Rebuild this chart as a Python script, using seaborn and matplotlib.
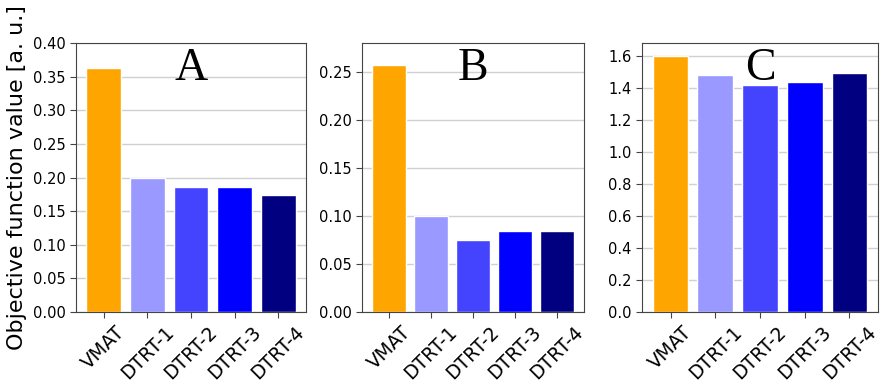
import pandas as pd
import seaborn as sns
import matplotlib.pyplot as plt

# bar values
methods = ['VMAT', 'DTRT-1', 'DTRT-2', 'DTRT-3', 'DTRT-4']
vals_a = [0.363, 0.200, 0.186, 0.186, 0.174]
vals_b = [0.257, 0.100, 0.075, 0.084, 0.084]
vals_c = [1.600, 1.480, 1.420, 1.435, 1.492]
letters = ['A', 'B', 'C']
colors = ['#FFA500', '#9999FF', '#4444FF', '#0000FF', '#000080']

sns.set_style('white')
plt.rcParams['font.family'] = ['DejaVu Sans']
plt.rcParams['text.color'] = 'black'
plt.rcParams['axes.labelcolor'] = 'black'
plt.rcParams['xtick.color'] = 'black'
plt.rcParams['ytick.color'] = 'black'

fig = plt.figure(figsize=(8.83, 3.9), dpi=100)
W, H = 883, 390
boxes = [(76, 306), (362, 584), (642, 878)]
top, bot = 43, 312

panels = [(vals_a, 0.40, [0, 0.05, 0.10, 0.15, 0.20, 0.25, 0.30, 0.35, 0.40], '%.2f'),
          (vals_b, 0.28, [0, 0.05, 0.10, 0.15, 0.20, 0.25], '%.2f'),
          (vals_c, 1.68, [0, 0.2, 0.4, 0.6, 0.8, 1.0, 1.2, 1.4, 1.6], '%.1f')]

for i, (vals, ymax, ticks, fmt) in enumerate(panels):
    x0, x1 = boxes[i]
    ax = fig.add_axes([x0 / W, 1 - bot / H, (x1 - x0) / W, (bot - top) / H])
    df = pd.DataFrame({'method': methods, 'value': vals})
    sns.barplot(data=df, x='method', y='value', hue='method', palette=colors,
                legend=False, ax=ax, width=0.8, saturation=1)
    ax.set_xlim(-0.64, 4.64)
    ax.set_ylim(0, ymax)
    ax.set_yticks(ticks)
    ax.set_yticklabels([fmt % t for t in ticks], fontsize=10.5)
    ax.set_xlabel('')
    ax.set_ylabel('')
    ax.yaxis.grid(True, color='#d0d0d0', linewidth=1)
    ax.set_axisbelow(True)
    for s in ax.spines.values():
        s.set_color('#444444')
    ax.tick_params(axis='both', length=4, color='#444444', direction='out',
                   bottom=True, left=True)
    plt.setp(ax.get_xticklabels(), rotation=45, ha='center', fontsize=13.5)
    ax.text(0.5, 0.985, letters[i], transform=ax.transAxes, ha='center', va='top',
            fontsize=33, family='Liberation Serif')
    if i == 0:
        ax.set_ylabel('Objective function value [a. u.]', fontsize=16)

fig.savefig('out.png', dpi=100)
